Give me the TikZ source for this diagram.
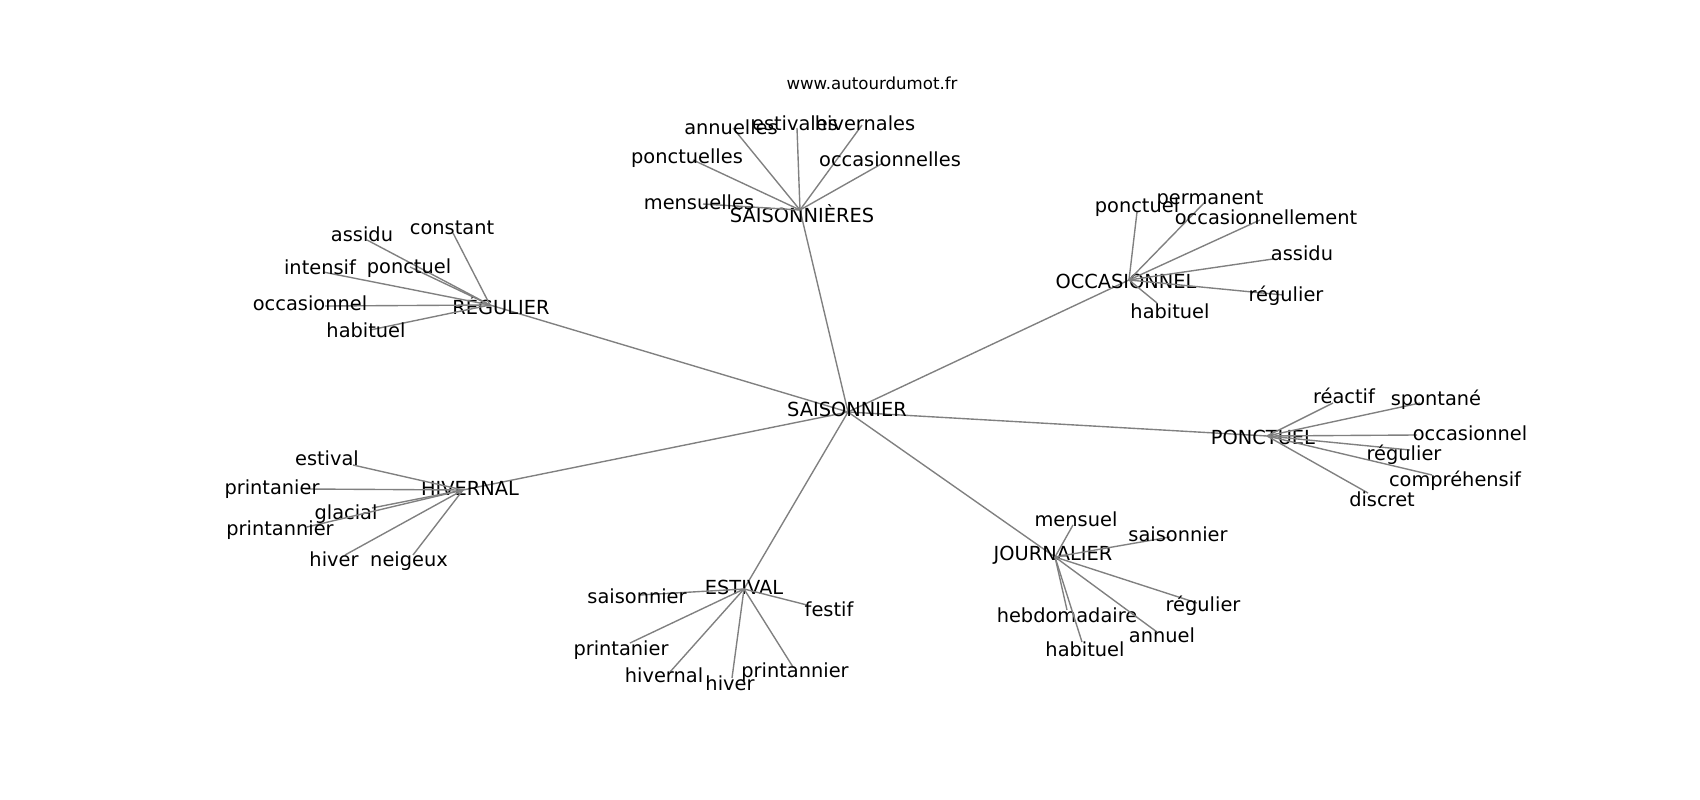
\documentclass[tikz,border=0pt]{standalone}
\usepackage{fontspec}
\setmainfont{DejaVu Sans}
\newcommand\leaf[7]{%
  \coordinate (#1) at (#2,#3);
  \draw[edge] (#7) -- (#1);
  \node[lab] (#1t) at (#4,#5) {#6};
}
\begin{document}
\begin{tikzpicture}[x=0.01in,y=-0.01in,
  lab/.style={font=\fontsize{14}{16}\selectfont, inner sep=0pt, text height=0.75em, text depth=0.25em, yshift=-2.9pt},
  edge/.style={draw=gray, line width=1pt}]
\useasboundingbox (0,0) rectangle (1700,800);
% hubs
\coordinate (hC) at (848,412);
\coordinate (hS) at (800,210);
\coordinate (hR) at (490,305);
\coordinate (hO) at (1129,280);
\coordinate (hP) at (1267,436);
\coordinate (hH) at (463,490);
\coordinate (hE) at (744,589);
\coordinate (hJ) at (1055,557);
\foreach \h in {hS,hR,hO,hP,hH,hE,hJ} {\draw[edge] (hC) -- (\h);}
\node[lab] (lC) at (847,409) {SAISONNIER};
\node[lab] (lS) at (802,215) {SAISONNIÈRES};
\node[lab] (lR) at (501,307) {RÉGULIER};
\node[lab] (lO) at (1126,281) {OCCASIONNEL};
\node[lab] (lP) at (1263,437) {PONCTUEL};
\node[lab] (lH) at (470,488) {HIVERNAL};
\node[lab] (lE) at (744,587) {ESTIVAL};
\node[lab] (lJ) at (1053,553) {JOURNALIER};
% SAISONNIERES
\leaf{s1}{733}{128}{731}{127}{annuelles}{hS}
\leaf{s2}{797}{128}{795}{123}{estivales}{hS}
\leaf{s3}{862}{125}{865}{123}{hivernales}{hS}
\leaf{s4}{693}{160}{687}{156}{ponctuelles}{hS}
\leaf{s5}{883}{163}{890}{159}{occasionnelles}{hS}
\leaf{s6}{703}{204}{699}{202}{mensuelles}{hS}
% REGULIER
\leaf{r1}{367}{240}{362}{234}{assidu}{hR}
\leaf{r2}{453}{233}{452}{227}{constant}{hR}
\leaf{r3}{323}{272}{320}{267}{intensif}{hR}
\leaf{r4}{410}{267}{409}{266}{ponctuel}{hR}
\leaf{r5}{325}{306}{310}{303}{occasionnel}{hR}
\leaf{r6}{370}{330}{366}{330}{habituel}{hR}
% OCCASIONNEL
\leaf{o1}{1137}{212}{1137}{205}{ponctuel}{hO}
\leaf{o2}{1205}{202}{1210}{197}{permanent}{hO}
\leaf{o3}{1260}{220}{1266}{217}{occasionnellement}{hO}
\leaf{o4}{1273}{259}{1302}{253}{assidu}{hO}
\leaf{o5}{1283}{295}{1286}{294}{régulier}{hO}
\leaf{o6}{1157}{303}{1170}{311}{habituel}{hO}
% PONCTUEL
\leaf{p1}{1333}{403}{1344}{396}{réactif}{hP}
\leaf{p2}{1420}{403}{1436}{398}{spontané}{hP}
\leaf{p3}{1417}{435}{1470}{433}{occasionnel}{hP}
\leaf{p4}{1410}{450}{1404}{453}{régulier}{hP}
\leaf{p5}{1432}{475}{1455}{479}{compréhensif}{hP}
\leaf{p6}{1368}{493}{1382}{499}{discret}{hP}
% HIVERNAL
\leaf{h1}{353}{465}{327}{458}{estival}{hH}
\leaf{h2}{305}{489}{272}{487}{printanier}{hH}
\leaf{h3}{372}{508}{346}{512}{glacial}{hH}
\leaf{h4}{307}{527}{280}{528}{printannier}{hH}
\leaf{h5}{345}{555}{334}{559}{hiver}{hH}
\leaf{h6}{413}{555}{409}{559}{neigeux}{hH}
% ESTIVAL
\leaf{e1}{640}{595}{637}{596}{saisonnier}{hE}
\leaf{e2}{807}{605}{829}{609}{festif}{hE}
\leaf{e3}{630}{643}{621}{648}{printanier}{hE}
\leaf{e4}{670}{672}{664}{675}{hivernal}{hE}
\leaf{e5}{732}{678}{730}{683}{hiver}{hE}
\leaf{e6}{793}{667}{795}{670}{printannier}{hE}
% JOURNALIER
\leaf{j1}{1073}{525}{1076}{519}{mensuel}{hJ}
\leaf{j2}{1170}{537}{1178}{534}{saisonnier}{hJ}
\leaf{j3}{1197}{603}{1203}{604}{régulier}{hJ}
\leaf{j4}{1067}{610}{1067}{615}{hebdomadaire}{hJ}
\leaf{j5}{1157}{632}{1162}{635}{annuel}{hJ}
\leaf{j6}{1082}{642}{1085}{649}{habituel}{hJ}
% source
\node[font=\fontsize{12}{14}\selectfont, inner sep=0pt] (www) at (872,83) {www.autourdumot.fr};
\end{tikzpicture}
\end{document}
